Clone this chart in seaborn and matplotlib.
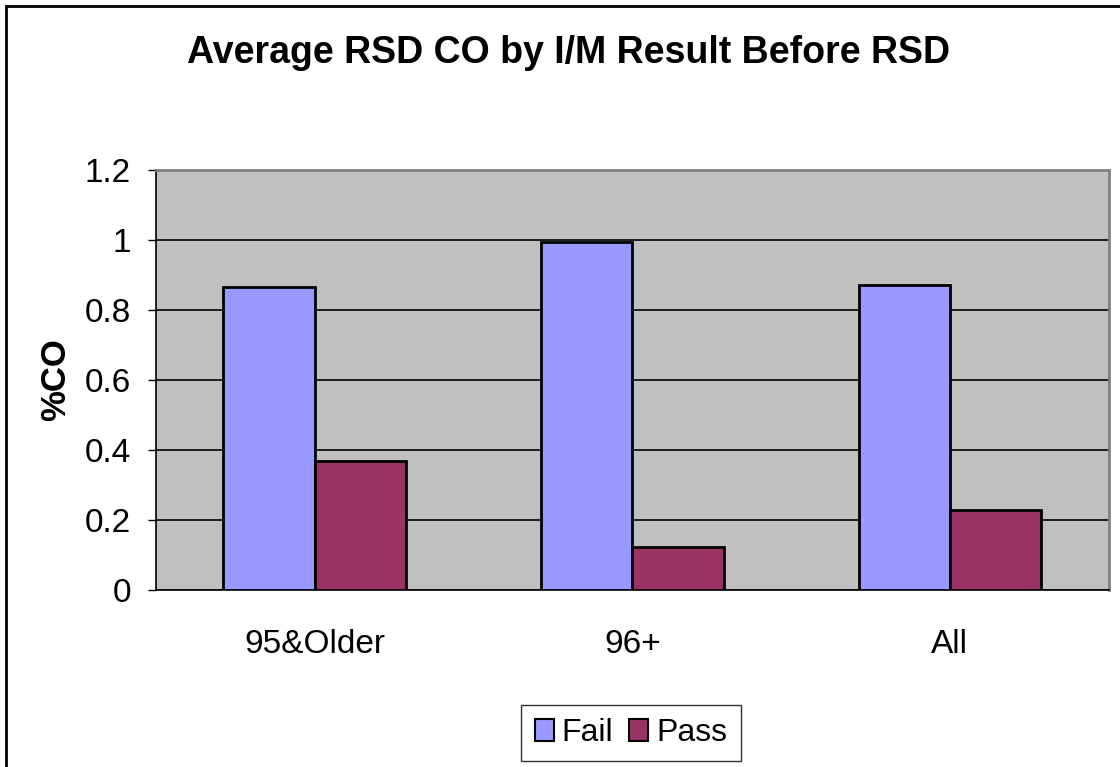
import pandas as pd
import seaborn as sns
import matplotlib.pyplot as plt
from matplotlib.patches import Rectangle

# Chart data
groups = ['95&Older', '96+', 'All']
fail_values = [0.865, 0.994, 0.871]
pass_values = [0.367, 0.123, 0.228]
results = ['Fail', 'Pass']
colors = ['#9999FF', '#993366']
y_ticks = [0, 0.2, 0.4, 0.6, 0.8, 1, 1.2]
y_tick_labels = ['0', '0.2', '0.4', '0.6', '0.8', '1', '1.2']

df = pd.DataFrame({
    'group': groups * 2,
    'result': ['Fail'] * len(groups) + ['Pass'] * len(groups),
    'value': fail_values + pass_values,
})

sns.set_style('white')
plt.rcParams['font.family'] = ['Liberation Sans', 'DejaVu Sans']
plt.rcParams['text.color'] = 'black'
plt.rcParams['axes.labelcolor'] = 'black'
plt.rcParams['xtick.color'] = 'black'
plt.rcParams['ytick.color'] = 'black'

fig = plt.figure(figsize=(11.2, 7.67), dpi=100)
ax = fig.add_axes([0.1393, 0.2308, 0.8506, 0.5479])
ax.set_facecolor('#C0C0C0')

sns.barplot(data=df, x='group', y='value', hue='result', order=groups,
            hue_order=results, palette=colors, saturation=1, width=0.575,
            edgecolor='black', linewidth=2, ax=ax, legend=False, zorder=3)

ax.set_xlim(-0.5, 2.5)
ax.set_ylim(0, 1.2)
ax.set_yticks(y_ticks)
ax.set_yticklabels(y_tick_labels, fontsize=24)
ax.set_xticks(range(len(groups)))
ax.set_xticklabels(groups, fontsize=24)
ax.set_xticks([-0.5, 0.5, 1.5, 2.5], minor=True)
ax.tick_params(axis='x', which='major', length=0, pad=28)
ax.tick_params(axis='x', which='minor', length=8, width=1, direction='out')
ax.tick_params(axis='y', length=6, width=1, direction='out', pad=12, left=True)
ax.yaxis.grid(True, color='black', linewidth=1.2, zorder=1)
ax.set_axisbelow(True)
ax.set_xlabel('')
ax.set_ylabel('%CO', fontsize=25, fontweight='bold', labelpad=9)

for side in ['left', 'bottom']:
    ax.spines[side].set_color('black')
    ax.spines[side].set_linewidth(1.2)
for side in ['top', 'right']:
    ax.spines[side].set_color('#808080')
    ax.spines[side].set_linewidth(2)

fig.text(0.508, 0.931, 'Average RSD CO by I/M Result Before RSD',
         ha='center', va='center', fontsize=27, fontweight='bold')

handles = [Rectangle((0, 0), 1, 1, facecolor=c, edgecolor='black', linewidth=1.5) for c in colors]
leg = fig.legend(handles, results, loc='center', bbox_to_anchor=(0.5634, 0.0443),
                 ncol=2, frameon=True, fancybox=False, handlelength=0.6, handleheight=0.7,
                 handletextpad=0.25, columnspacing=0.5, borderpad=0.42, borderaxespad=0,
                 prop={'size': 23})
leg.get_frame().set_edgecolor('black')
leg.get_frame().set_linewidth(1)

# outer chart border (only top and left visible in the crop)
fig.patches.append(Rectangle((6 / 1120, -0.1), 1.2, 1 - 6 / 767 + 0.1,
                             transform=fig.transFigure, fill=False,
                             edgecolor='black', linewidth=2))

fig.savefig('out.png', dpi=100)
